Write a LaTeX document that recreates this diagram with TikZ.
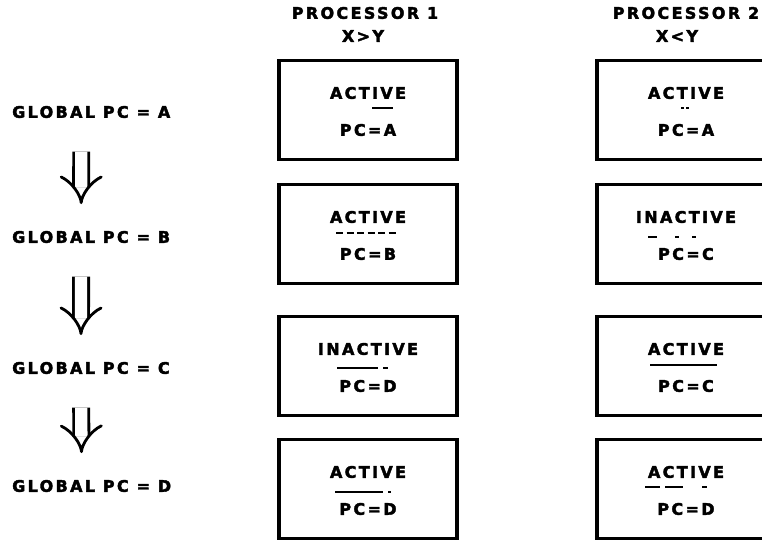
\documentclass[tikz,border=0pt]{standalone}
\usepackage{fontspec}
\newfontfamily\scanfont[LetterSpace=15, FakeBold=2.5]{DejaVu Sans}
\usetikzlibrary{arrows.meta}

\tikzset{
  lbl/.style={font=\scanfont\bfseries\fontsize{13.6}{15}\selectfont, inner sep=0pt},
  pcbox/.style={draw, line width=2.6pt, minimum width=5.34cm, minimum height=2.95cm, inner sep=0pt},
  sepline/.style={line width=1.6pt},
  flow/.style={line width=2.4pt, double distance=10.5pt, -{Implies[scale=1.5]}, shorten <=1cm, shorten >=0.8cm}
}

\begin{document}
\begin{tikzpicture}[x=0.3mm, y=-0.3mm]
  \useasboundingbox (0,0) rectangle (762,544);

  % Cabeceras de los procesadores
  \node[lbl] (hp1) at (365,13) {PROCESSOR 1};
  \node[lbl] (cp1) at (363,36) {X>Y};
  \node[lbl] (hp2) at (686,13) {PROCESSOR 2};
  \node[lbl] (cp2) at (677,36) {X<Y};

  % Contador de programa global
  \foreach \r/\y/\pc in {a/112/A, b/237/B, c/368/C, d/486/D} {
    \node[lbl, anchor=west] (g\r) at (12,\y) {GLOBAL PC = \pc};
  }

  % Cajas de estado por fila
  \foreach \r/\y/\sa/\pa/\sb/\pb in {a/110/ACTIVE/A/ACTIVE/A, b/234/ACTIVE/B/INACTIVE/C,
                                     c/366/INACTIVE/D/ACTIVE/C, d/489/ACTIVE/D/ACTIVE/D} {
    \node[pcbox] (p1\r) at (368,\y) {};
    \node[lbl] (s1\r) at (368,\y-17) {\sa};
    \node[lbl] (c1\r) at (368,\y+20) {PC=\pa};
    \node[pcbox] (p2\r) at (686,\y) {};
    \node[lbl] (s2\r) at (686,\y-17) {\sb};
    \node[lbl] (c2\r) at (686,\y+20) {PC=\pb};
  }

  % Rayas de separacion
  \draw[sepline] (372,108) -- (393,108);
  \draw[sepline, dash pattern=on 6pt off 3pt] (336,233) -- (396,233);
  \draw[sepline] (337,368) -- (378,368) (383,368) -- (388,368);
  \draw[sepline] (335,492) -- (383,492) (388,492) -- (391,492);
  \draw[sepline] (681,108) -- (684,108) (686,108) -- (689,108);
  \draw[sepline] (648,237) -- (657,237) (675,237) -- (679,237) (692,237) -- (696,237);
  \draw[sepline] (650,365) -- (717,365);
  \draw[sepline] (645,487) -- (660,487) (665,487) -- (683,487) (702,487) -- (707,487);

  % Flechas entre estados globales
  \draw[flow] ([xshift=-0.3cm]ga.south) -- ([xshift=-0.3cm]gb.north);
  \draw[flow] ([xshift=-0.3cm]gb.south) -- ([xshift=-0.3cm]gc.north);
  \draw[flow] ([xshift=-0.3cm]gc.south) -- ([xshift=-0.3cm]gd.north);
\end{tikzpicture}
\end{document}
